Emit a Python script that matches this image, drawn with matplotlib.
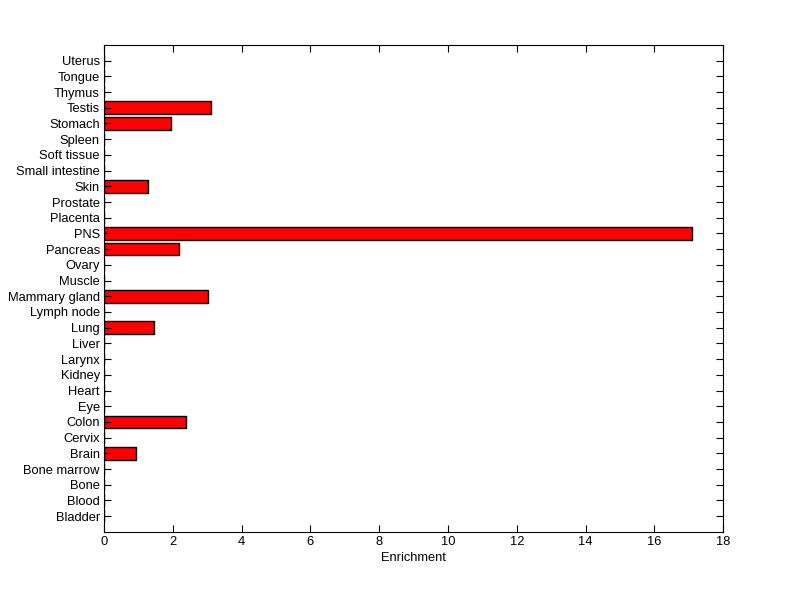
import matplotlib
matplotlib.use("Agg")
import matplotlib.pyplot as plt

# tissues, bottom to top
tissues = ["Bladder", "Blood", "Bone", "Bone marrow", "Brain", "Cervix", "Colon",
           "Eye", "Heart", "Kidney", "Larynx", "Liver", "Lung", "Lymph node",
           "Mammary gland", "Muscle", "Ovary", "Pancreas", "PNS", "Placenta",
           "Prostate", "Skin", "Small intestine", "Soft tissue", "Spleen",
           "Stomach", "Testis", "Thymus", "Tongue", "Uterus"]
enrichment = [0, 0, 0, 0, 0.92, 0, 2.37,
              0, 0, 0, 0, 0, 1.46, 0,
              3.03, 0, 0, 2.18, 17.08, 0,
              0, 1.29, 0, 0, 0,
              1.96, 3.12, 0, 0, 0]
xticks = [0, 2, 4, 6, 8, 10, 12, 14, 16, 18]

plt.rcParams['font.family'] = ['Liberation Sans', 'DejaVu Sans']

fig = plt.figure(figsize=(8, 5.99), dpi=100)
ax = fig.add_axes([0.13, 0.112, 0.774, 0.813])

pos = list(range(1, len(tissues) + 1))
ax.barh(pos, enrichment, height=0.8, color='#ff0000', edgecolor='black', linewidth=1)

ax.set_xlim(0, 18)
ax.set_ylim(0, len(tissues) + 1)
ax.set_xticks(xticks)
ax.set_yticks(pos)
ax.set_yticklabels(tissues)
ax.set_xlabel('Enrichment', fontsize=9.3, labelpad=3)

ax.tick_params(direction='in', top=True, right=True, length=5, width=0.8,
               labelsize=9.3, pad=3)
for s in ax.spines.values():
    s.set_linewidth(0.8)

fig.savefig('out.png', dpi=100)
